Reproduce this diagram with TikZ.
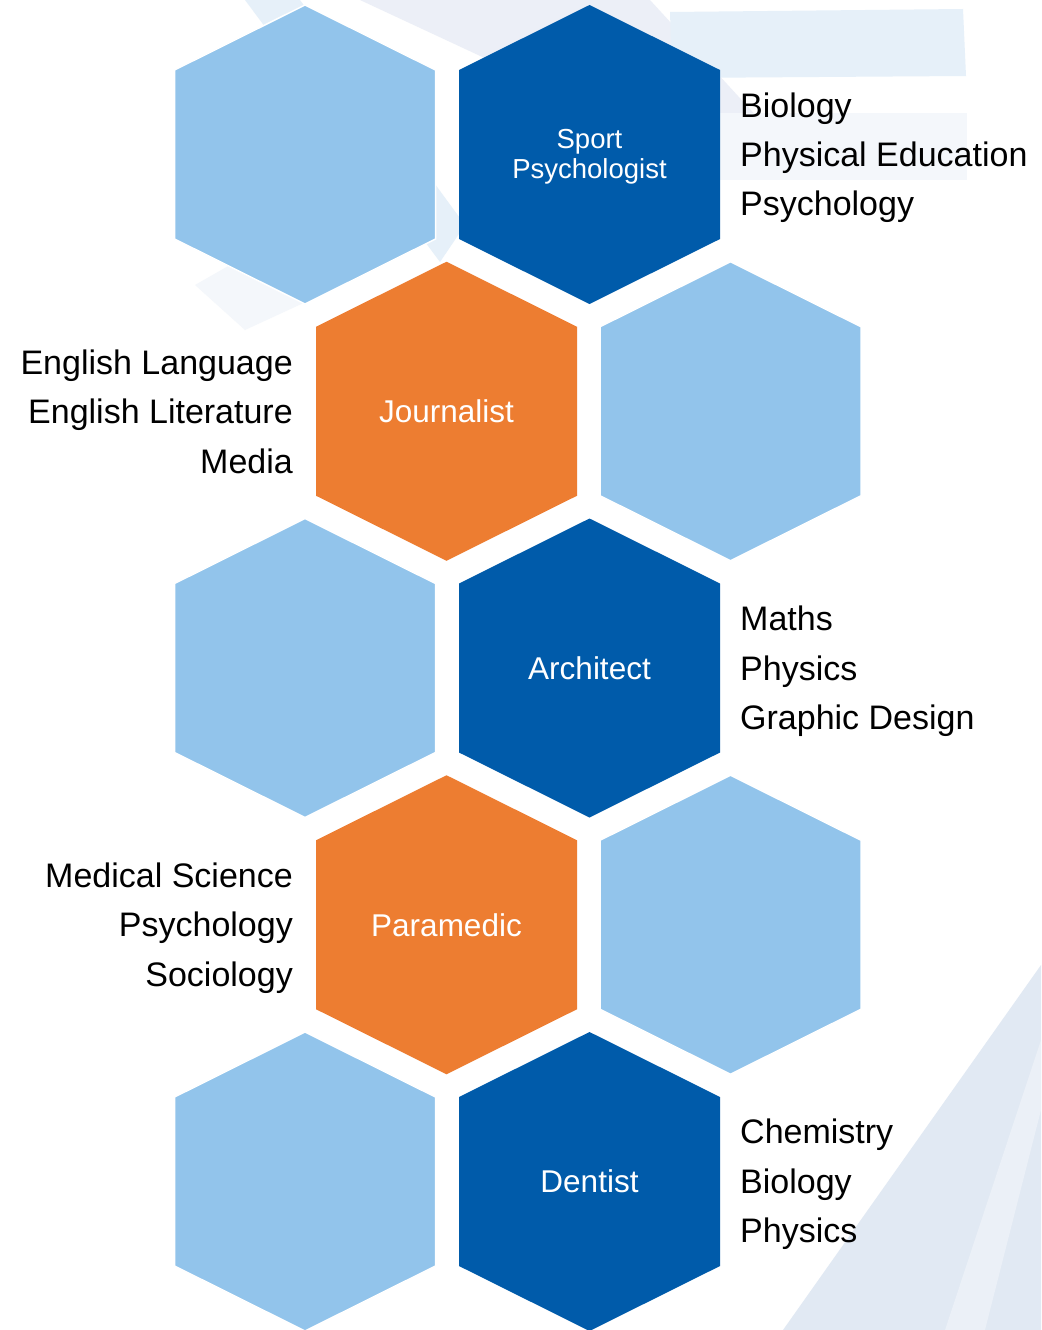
\documentclass[tikz,border=0pt]{standalone}
\usepackage{fontspec}
\setmainfont{Liberation Sans}
\definecolor{hexLight}{HTML}{92C4EB}
\definecolor{hexDark}{HTML}{005BAA}
\definecolor{hexOrange}{HTML}{ED7D31}
\definecolor{bgPale}{HTML}{E6F0F9}
\definecolor{bgLav}{HTML}{ECEFF7}
\definecolor{bgFaint}{HTML}{F4F7FB}
\definecolor{bgCorner}{HTML}{E1E9F3}
\begin{document}
\begin{tikzpicture}[x=1pt,y=-1pt,
  hexlight/.style={fill=hexLight, draw=white, line width=1.5pt},
  hexdark/.style={fill=hexDark},
  hexorange/.style={fill=hexOrange},
  lbl/.style={text=white, font=\fontsize{31.5}{36}\selectfont, inner sep=0pt},
  lblsmall/.style={text=white, font=\fontsize{27.5}{30}\selectfont, inner sep=0pt, align=center},
  sideR/.style={font=\fontsize{34}{40}\selectfont, inner sep=0pt, text=black, anchor=base west},
  sideL/.style={font=\fontsize{34}{40}\selectfont, inner sep=0pt, text=black, anchor=base east},
  hexagon/.pic={\path[pic actions] (0,-149.5) -- (130.5,-84.5) -- (130.5,84.5) -- (0,149.5) -- (-130.5,84.5) -- (-130.5,-84.5) -- cycle;}]
\useasboundingbox (0,0) rectangle (1041,1330);
\clip (0,0) rectangle (1041,1330);
\fill[white] (0,0) rectangle (1041,1330);
% faint background bands
\fill[bgPale] (245,0) -- (300,0) -- (465,225) -- (440,262) -- cycle;
\fill[bgLav] (360,0) -- (650,0) -- (760,120) -- (725,170) -- cycle;
\fill[bgPale] (670,12) -- (963,9) -- (966,76) -- (672,78) -- cycle;
\fill[bgFaint] (720,113) -- (967,113) -- (967,180) -- (720,180) -- cycle;
\fill[bgFaint] (195,285) -- (265,245) -- (310,300) -- (245,330) -- cycle;
\fill[bgCorner] (1041,965) -- (1041,1330) -- (783,1330) -- cycle;
\fill[bgFaint!50!bgCorner] (1041,1040) -- (1041,1110) -- (985,1330) -- (945,1330) -- cycle;
% hexagons
\pic[hexlight]  at (305,154.5)    {hexagon};
\pic[hexdark]   at (589.5,154.5)  {hexagon};
\pic[hexorange] at (446.5,411.25) {hexagon};
\pic[hexlight]  at (730.5,411.25) {hexagon};
\pic[hexlight]  at (305,668)      {hexagon};
\pic[hexdark]   at (589.5,668)    {hexagon};
\pic[hexorange] at (446.5,924.75) {hexagon};
\pic[hexlight]  at (730.5,924.75) {hexagon};
\pic[hexlight]  at (305,1181.5)   {hexagon};
\pic[hexdark]   at (589.5,1181.5) {hexagon};
% hexagon labels
\node[lblsmall] (sport) at (589.5,157) {Sport\\Psychologist};
\node[lbl] (journalist) at (446.5,411.25) {Journalist};
\node[lbl] (architect) at (589.5,668) {Architect};
\node[lbl] (paramedic) at (446.5,924.75) {Paramedic};
\node[lbl] (dentist) at (589.5,1181.5) {Dentist};
% subject lists
\node[sideR] (s1a) at (740,117.5) {Biology};
\node[sideR] (s1b) at (740,166.5) {Physical Education};
\node[sideR] (s1c) at (740,215.5) {Psychology};
\node[sideL] (s2a) at (293,374) {English Language};
\node[sideL] (s2b) at (293,423.5) {English Literature};
\node[sideL] (s2c) at (293,473) {Media};
\node[sideR] (s3a) at (740,630.5) {Maths};
\node[sideR] (s3b) at (740,680) {Physics};
\node[sideR] (s3c) at (740,729.5) {Graphic Design};
\node[sideL] (s4a) at (293,887) {Medical Science};
\node[sideL] (s4b) at (293,936.5) {Psychology};
\node[sideL] (s4c) at (293,986) {Sociology};
\node[sideR] (s5a) at (740,1143.5) {Chemistry};
\node[sideR] (s5b) at (740,1193) {Biology};
\node[sideR] (s5c) at (740,1242.5) {Physics};
\end{tikzpicture}
\end{document}
